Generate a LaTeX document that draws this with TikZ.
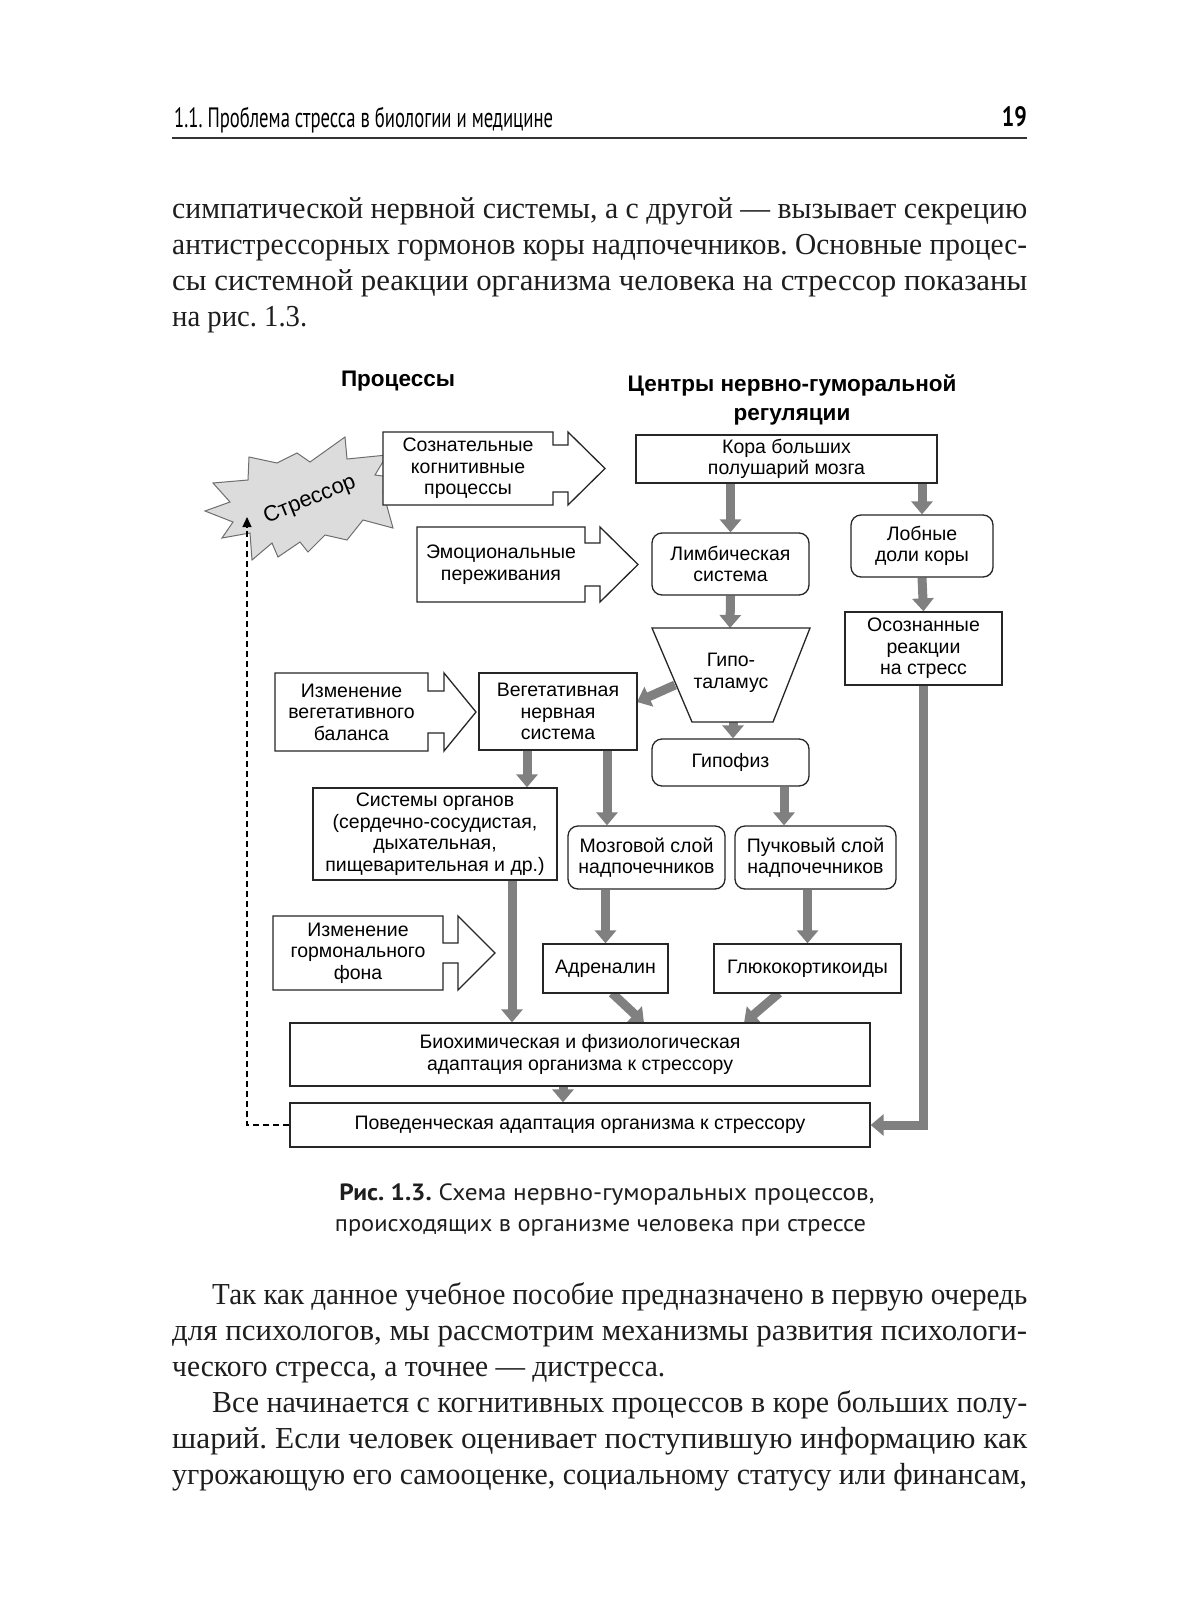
\documentclass[tikz,border=0pt]{standalone}
\usepackage{fontspec}
\usepackage{graphicx}
\usetikzlibrary{arrows.meta}
\setmainfont{Liberation Serif}
\newfontfamily\dsans{Liberation Sans}
\newfontfamily\capfont{PT Sans}
\definecolor{ag}{RGB}{128,128,128}
\definecolor{starfill}{RGB}{220,220,220}
\definecolor{starline}{RGB}{110,110,110}
\definecolor{txt}{RGB}{30,30,30}
\pgfdeclarelayer{bgzero}
\pgfdeclarelayer{arrowlayer}
\pgfsetlayers{bgzero,arrowlayer,main}
\newcommand{\barrowpath}[7]{%
  (#1,#5) -- (#2,#5) -- (#2,#5+#7) -- (#3,#5+#7) -- (#3,#5) -- (#4,{(#5+#6)/2}) --
  (#3,#6) -- (#3,#6-#7) -- (#2,#6-#7) -- (#2,#6) -- (#1,#6) -- cycle}
\newcommand{\fitline}[2]{\resizebox{#1}{\height}{#2}}
\begin{document}
\frenchspacing
\begin{tikzpicture}[x=1pt,y=-1pt,
  boxfont/.style={font=\dsans\fontsize{19.5}{21.5}\selectfont},
  box/.style={draw=black!85, line width=1.3pt, fill=white, align=center, inner sep=0pt, boxfont},
  rbox/.style={box, rounded corners=10pt},
  lbl/.style={align=center, inner sep=0pt, boxfont},
  garrow/.style={draw=ag, line width=9pt, line join=miter, -{Triangle[width=21pt,length=13pt]}},
  barrow/.style={draw=black!85, line width=1.3pt, fill=white, line join=miter},
  bodyline/.style={anchor=base west, inner sep=0pt, text=txt, font=\fontsize{30.5}{34}\selectfont},
  headfont/.style={font=\dsans\bfseries\fontsize{22.5}{29}\selectfont, align=center, inner sep=0pt},
  dashconn/.style={draw=black, line width=1.2pt, dash pattern=on 6pt off 4pt, -{Triangle[width=9pt,length=10pt]}},
  ]
\begin{pgfonlayer}{bgzero}
\fill[white] (0,0) rectangle (1200,1600);
\end{pgfonlayer}
\useasboundingbox (0,0) rectangle (1200,1600);

% ---------- page header ----------
\node[anchor=base west, inner sep=0pt, text=black] (hdr) at (174,127)
  {\resizebox{379pt}{\height}{\capfont\fontsize{28}{28}\selectfont 1.1. Проблема стресса в биологии и медицине}};
\node[anchor=base east, inner sep=0pt, text=black] (pno) at (1027,127)
  {\resizebox{25pt}{\height}{\capfont\bfseries\fontsize{28}{28}\selectfont 19}};
\coordinate (hl) at (172,138);
\coordinate (hr) at (1027,138);
\draw[line width=1.3pt, draw=black!80] (hl) -- (hr);

% ---------- top paragraph ----------
\node[bodyline] (p1) at (172,218) {\fitline{855pt}{симпатической нервной системы, а с другой — вызывает секрецию}};
\node[bodyline] (p2) at (172,254) {\fitline{855pt}{антистрессорных гормонов коры надпочечников. Основные процес-}};
\node[bodyline] (p3) at (172,290) {\fitline{855pt}{сы системной реакции организма человека на стрессор показаны}};
\node[bodyline] (p4) at (172,326) {\fitline{135pt}{на рис. 1.3.}};

% ---------- headings ----------
\node[headfont] (hproc) at (398,381) {Процессы};
\node[headfont] (hcent) at (792,399.5) {Центры нервно-гуморальной\\регуляции};

% ---------- stressor ----------
\draw[fill=starfill, draw=starline, line width=1pt, line join=miter]
  (213,483) -- (248,480) -- (249,457) -- (277,463) -- (297,453) -- (310,462) --
  (345,437) -- (347,459) -- (387,455) -- (375,475) -- (398,478) -- (383,492) --
  (393,528) -- (363,520) -- (347,540) -- (325,535) -- (308,552) -- (300,542) --
  (278,557) -- (272,543) -- (252,560) -- (250,533) -- (222,538) -- (233,522) --
  (205,511) -- (230,502) -- cycle;
\node[rotate=22, inner sep=0pt, font=\dsans\fontsize{22}{22}\selectfont] (stressor) at (310,500) {Стрессор};
\coordinate (stip) at (247,517);

% ---------- block arrows (processes) ----------
\draw[barrow] \barrowpath{383}{553}{568}{605}{432}{505}{13};
\node[lbl] (cogn) at (468,468.5) {Сознательные\\когнитивные\\процессы};
\draw[barrow] \barrowpath{417}{585}{600}{638}{527}{602}{16};
\node[lbl] (emo) at (501,564.5) {Эмоциональные\\переживания};
\draw[barrow] \barrowpath{275}{428}{444}{476}{673}{751}{18};
\node[lbl] (vegbal) at (351.5,712) {Изменение\\вегетативного\\баланса};
\draw[barrow] \barrowpath{273}{443}{458}{495}{916}{990}{27};
\node[lbl] (gorm) at (358,953) {Изменение\\гормонального\\фона};

% ---------- centres ----------
\node[box, minimum width=301pt, minimum height=48pt] (kora) at (786.5,459) {Кора больших\\полушарий мозга};
\node[rbox, minimum width=157pt, minimum height=62pt] (limb) at (730.5,564) {Лимбическая\\система};
\node[rbox, minimum width=142pt, minimum height=62pt] (lob) at (922,546) {Лобные\\доли коры};
\node[box, minimum width=157pt, minimum height=73pt] (osozn) at (923.5,648.5) {Осознанные\\реакции\\на стресс};
\draw[draw=black!85, line width=1.3pt, fill=white, line join=miter]
  (652,628) -- (810,628) -- (773,722) -- (692,722) -- cycle;
\node[lbl] (hypo) at (731,673) {Гипо-\\таламус};
\coordinate (hT) at (730,628);
\coordinate (hL) at (675,685);
\coordinate (hB) at (733,722);
\node[rbox, minimum width=157pt, minimum height=47pt] (gipo) at (730.5,762.5) {Гипофиз};
\node[box, minimum width=158pt, minimum height=77pt] (veget) at (558,711.5) {Вегетативная\\нервная\\система};
\coordinate (vE) at (637,702);
\node[box, minimum width=244pt, minimum height=92pt] (sist) at (435,834) {Системы органов\\(сердечно-сосудистая,\\дыхательная,\\пищеварительная и др.)};
\node[rbox, minimum width=157pt, minimum height=63pt] (mozg) at (646.5,857.5) {Мозговой слой\\надпочечников};
\node[rbox, minimum width=161pt, minimum height=63pt] (puch) at (815.5,857.5) {Пучковый слой\\надпочечников};
\node[box, minimum width=125pt, minimum height=49pt] (adren) at (605.5,968.5) {Адреналин};
\node[box, minimum width=187pt, minimum height=49pt] (gluco) at (807.5,968.5) {Глюкокортикоиды};
\node[box, minimum width=580pt, minimum height=63pt] (bio) at (580,1054.5) {Биохимическая и физиологическая\\адаптация организма к стрессору};
\node[box, minimum width=580pt, minimum height=44pt] (poved) at (580,1125) {Поведенческая адаптация организма к стрессору};

% ---------- gray connectors ----------
\coordinate (xVS) at (527,0);
\coordinate (xVM) at (607,0);
\coordinate (xGP) at (784,0);
\coordinate (xSB) at (512,0);
\coordinate (xBP) at (563,0);
\coordinate (aS) at (612,993);
\coordinate (aE) at (644,1023);
\coordinate (gS) at (779,993);
\coordinate (gE) at (744,1023);
\begin{pgfonlayer}{arrowlayer}
\draw[garrow] (limb.north |- kora.south) -- (limb.north);
\draw[garrow] (lob.north |- kora.south) -- (lob.north);
\draw[garrow] (limb.south) -- (hT);
\draw[garrow] (lob.south) -- (osozn.north);
\draw[garrow] (hL) -- (vE);
\draw[garrow] (hB) -- (hB |- gipo.north);
\draw[garrow] (xGP |- gipo.south) -- (xGP |- puch.north);
\draw[garrow] (xVS |- veget.south) -- (xVS |- sist.north);
\draw[garrow] (xVM |- veget.south) -- (xVM |- mozg.north);
\draw[garrow] (adren.north |- mozg.south) -- (adren.north);
\draw[garrow] (gluco.north |- puch.south) -- (gluco.north);
\draw[garrow] (xSB |- sist.south) -- (xSB |- bio.north);
\draw[garrow] (aS) -- (aE);
\draw[garrow] (gS) -- (gE);
\draw[garrow] (xBP |- bio.south) -- (xBP |- poved.north);
\draw[garrow] (osozn.south) -- (osozn.south |- poved.east) -- (poved.east);
\end{pgfonlayer}
\draw[dashconn] (poved.west) -- (stip |- poved.west) -- (stip);

% ---------- caption ----------
\node[anchor=base, inner sep=0pt, text=txt] (cap1) at (607,1200)
  {\resizebox{535pt}{\height}{\capfont\fontsize{23.5}{23.5}\selectfont\textbf{Рис. 1.3.} Схема нервно-гуморальных процессов,}};
\node[anchor=base, inner sep=0pt, text=txt] (cap2) at (600.5,1231)
  {\resizebox{531pt}{\height}{\capfont\fontsize{23.5}{23.5}\selectfont происходящих в организме человека при стрессе}};

% ---------- bottom paragraphs ----------
\node[bodyline] (q1) at (212,1304.5) {\fitline{815pt}{Так как данное учебное пособие предназначено в первую очередь}};
\node[bodyline] (q2) at (172,1340.5) {\fitline{855pt}{для психологов, мы рассмотрим механизмы развития психологи-}};
\node[bodyline] (q3) at (172,1376.5) {\fitline{493pt}{ческого стресса, а точнее — дистресса.}};
\node[bodyline] (q4) at (212,1412.5) {\fitline{815pt}{Все начинается с когнитивных процессов в коре больших полу-}};
\node[bodyline] (q5) at (172,1448.5) {\fitline{855pt}{шарий. Если человек оценивает поступившую информацию как}};
\node[bodyline] (q6) at (172,1484.5) {\fitline{855pt}{угрожающую его самооценке, социальному статусу или финансам,}};
\end{tikzpicture}
\end{document}
